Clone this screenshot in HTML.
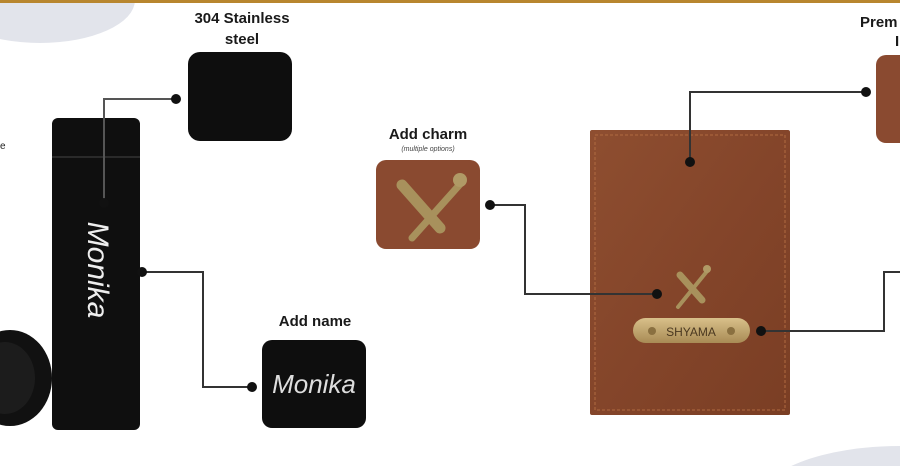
<!DOCTYPE html>
<html><head><meta charset="utf-8"><style>
html,body{margin:0;padding:0;background:#fff;width:900px;height:466px;overflow:hidden}
svg{display:block}
svg text{font-family:"Liberation Sans",sans-serif}
</style></head><body>
<svg width="900" height="466" viewBox="0 0 900 466" xmlns="http://www.w3.org/2000/svg">
<defs>
<linearGradient id="lea" x1="0" y1="0" x2="1" y2="1"><stop offset="0" stop-color="#8e4e30"/><stop offset="0.5" stop-color="#84452a"/><stop offset="1" stop-color="#7a3e24"/></linearGradient>
<linearGradient id="gold" x1="0" y1="0" x2="0" y2="1"><stop offset="0" stop-color="#d9c08a"/><stop offset="1" stop-color="#a88b55"/></linearGradient>
</defs>
<ellipse cx="40" cy="0" rx="95" ry="43" fill="#e2e4eb"/>
<ellipse cx="900" cy="500" rx="140" ry="54" fill="#e2e4eb"/>
<rect x="0" y="0" width="900" height="3" fill="#b8862e"/>
<text x="242" y="23" font-size="15" font-weight="bold" text-anchor="middle" fill="#1a1a1a">304 Stainless</text>
<text x="242" y="44" font-size="15" font-weight="bold" text-anchor="middle" fill="#1a1a1a">steel</text>
<rect x="188" y="52" width="104" height="89" rx="12" fill="#0e0e0e"/>
<text x="0" y="149" font-size="10" fill="#222">e</text>
<ellipse cx="10" cy="378" rx="42" ry="48" fill="#111"/>
<ellipse cx="5" cy="378" rx="30" ry="36" fill="#1c1c1c"/>
<rect x="52" y="118" width="88" height="312" rx="6" fill="#0f0f0f"/>
<rect x="52" y="156" width="88" height="2" fill="#2a2a2a"/>
<text transform="translate(88,270) rotate(90)" font-family="Liberation Serif,serif" font-style="italic" font-size="30" text-anchor="middle" fill="#eee">Monika</text>
<text x="315" y="326" font-size="15" font-weight="bold" text-anchor="middle" fill="#1a1a1a">Add name</text>
<rect x="262" y="340" width="104" height="88" rx="10" fill="#0e0e0e"/>
<text x="314" y="393" font-family="Liberation Serif,serif" font-style="italic" font-size="26" text-anchor="middle" fill="#ddd">Monika</text>
<text x="428" y="139" font-size="15" font-weight="bold" text-anchor="middle" fill="#1a1a1a">Add charm</text>
<text x="428" y="151" font-size="7" font-style="italic" text-anchor="middle" fill="#444">(multiple options)</text>
<rect x="376" y="160" width="104" height="89" rx="10" fill="#8a4a30"/>
<g stroke="#a8915c" stroke-linecap="round"><line x1="462" y1="182" x2="412" y2="238" stroke-width="7"/><line x1="402" y1="185" x2="440" y2="228" stroke-width="11"/></g>
<circle cx="460" cy="180" r="7" fill="#b09a66"/>
<rect x="590" y="130" width="200" height="285" rx="2" fill="url(#lea)"/>
<rect x="595" y="135" width="190" height="275" fill="none" stroke="#b06a40" stroke-width="1" stroke-dasharray="3,2"/>
<g stroke="#a8915c" stroke-linecap="round"><line x1="708" y1="270" x2="678" y2="307" stroke-width="4"/><line x1="680" y1="275" x2="702" y2="300" stroke-width="7"/></g>
<circle cx="707" cy="269" r="4" fill="#b09a66"/>
<rect x="633" y="318" width="117" height="25" rx="12.5" fill="url(#gold)"/>
<circle cx="652" cy="331" r="4" fill="#8a7040"/><circle cx="731" cy="331" r="4" fill="#8a7040"/>
<text x="691" y="336" font-size="12" text-anchor="middle" fill="#4a3820">SHYAMA</text>
<rect x="876" y="55" width="40" height="88" rx="10" fill="#8a4a30"/>
<text x="860" y="27" font-size="15" font-weight="bold" fill="#1a1a1a">Prem</text>
<text x="895" y="46" font-size="15" font-weight="bold" fill="#1a1a1a">I</text>
<g stroke="#333" stroke-width="2" fill="none">
<polyline points="104,203 104,99 176,99" stroke="#555"/>
<polyline points="142,272 203,272 203,387 252,387"/>
<polyline points="490,205 525,205 525,294 657,294"/>
<polyline points="690,162 690,92 866,92"/>
<polyline points="761,331 884,331 884,272 900,272"/>
</g>
<g fill="#111">
<circle cx="104" cy="203" r="5"/><circle cx="176" cy="99" r="5"/>
<circle cx="142" cy="272" r="5"/><circle cx="252" cy="387" r="5"/>
<circle cx="490" cy="205" r="5"/><circle cx="657" cy="294" r="5"/>
<circle cx="690" cy="162" r="5"/><circle cx="866" cy="92" r="5"/>
<circle cx="761" cy="331" r="5"/>
</g>
</svg>
</body></html>
